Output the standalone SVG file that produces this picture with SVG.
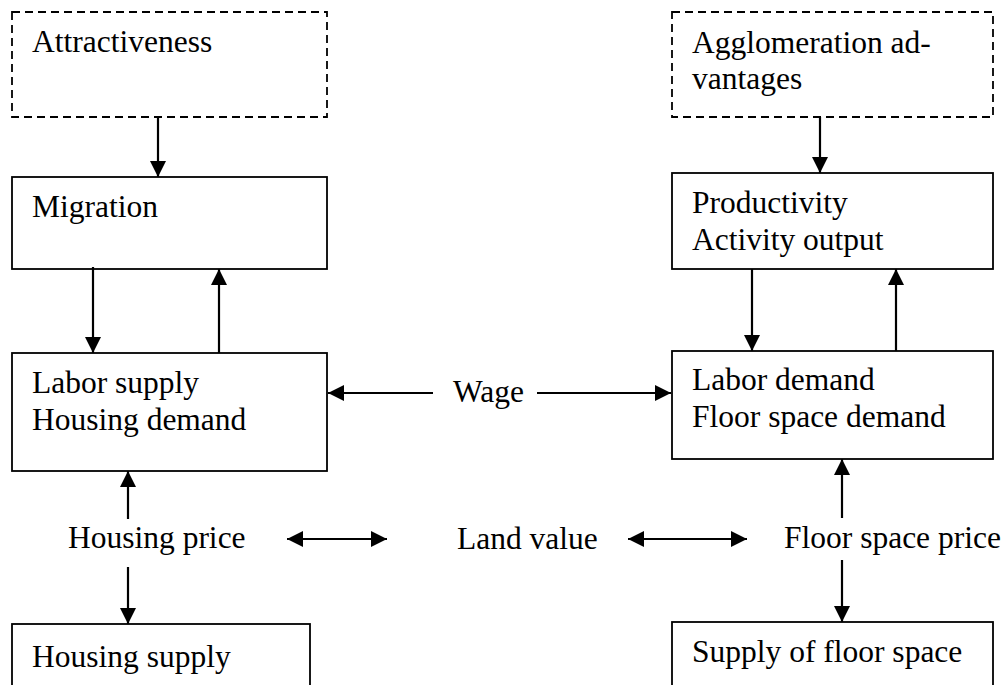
<svg xmlns="http://www.w3.org/2000/svg" width="1007" height="685" viewBox="0 0 1007 685">
<defs>
<marker id="ah" markerUnits="userSpaceOnUse" markerWidth="18" markerHeight="18" viewBox="0 0 18 18" refX="17" refY="9" orient="auto-start-reverse">
<path d="M1,1 L17,9 L1,17 Z" fill="#000"/>
</marker>
</defs>
<style>
.box{fill:#fff;stroke:#000;stroke-width:1.8}
.dash{fill:#fff;stroke:#000;stroke-width:1.8;stroke-dasharray:8 5}
.t{font-family:"Liberation Serif","Times New Roman",serif;font-size:31.5px;fill:#000}
.c{stroke:#000;stroke-width:2.2;fill:none;marker-end:url(#ah)}
.d{stroke:#000;stroke-width:2.2;fill:none;marker-end:url(#ah);marker-start:url(#ah)}
</style>
<rect width="1007" height="685" fill="#fff"/>
<g id="attractiveness"><rect class="dash" x="12" y="12" width="315" height="105"/><text class="t" x="32" y="52">Attractiveness</text></g>
<g id="agglomeration"><rect class="dash" x="672" y="12" width="321" height="105"/><text class="t" x="692" y="53">Agglomeration ad-</text><text class="t" x="692" y="89">vantages</text></g>
<g id="migration"><rect class="box" x="12" y="177" width="315" height="92"/><text class="t" x="32" y="217">Migration</text></g>
<g id="productivity"><rect class="box" x="672" y="173" width="321" height="96"/><text class="t" x="692" y="213">Productivity</text><text class="t" x="692" y="250">Activity output</text></g>
<g id="labor-supply"><rect class="box" x="12" y="353" width="315" height="118"/><text class="t" x="32" y="393">Labor supply</text><text class="t" x="32" y="430">Housing demand</text></g>
<g id="labor-demand"><rect class="box" x="672" y="351" width="321" height="108"/><text class="t" x="692" y="390">Labor demand</text><text class="t" x="692" y="427">Floor space demand</text></g>
<g id="wage"><text class="t" x="453" y="402">Wage</text></g>
<g id="housing-price"><text class="t" x="68" y="548">Housing price</text></g>
<g id="land-value"><text class="t" x="457" y="549">Land value</text></g>
<g id="floor-space-price"><text class="t" x="784" y="548">Floor space price</text></g>
<g id="housing-supply"><rect class="box" x="12" y="624" width="298" height="70"/><text class="t" x="32" y="667">Housing supply</text></g>
<g id="supply-floor-space"><rect class="box" x="672" y="622" width="321" height="72"/><text class="t" x="692" y="662">Supply of floor space</text></g>
<g id="connectors">
<line class="c" x1="158" y1="117" x2="158" y2="177"/>
<line class="c" x1="820" y1="117" x2="820" y2="173"/>
<line class="c" x1="93" y1="267" x2="93" y2="353"/>
<line class="c" x1="219" y1="353" x2="219" y2="269"/>
<line class="c" x1="752" y1="269" x2="752" y2="351"/>
<line class="c" x1="896" y1="351" x2="896" y2="269"/>
<line class="c" x1="433" y1="393" x2="328" y2="393"/>
<line class="c" x1="537" y1="393" x2="671" y2="393"/>
<line class="c" x1="128" y1="519" x2="128" y2="471"/>
<line class="c" x1="128" y1="567" x2="128" y2="624"/>
<line class="c" x1="842" y1="518" x2="842" y2="459"/>
<line class="c" x1="842" y1="560" x2="842" y2="622"/>
<line class="d" x1="287" y1="539" x2="387" y2="539"/>
<line class="d" x1="628" y1="539" x2="747" y2="539"/>
</g>
</svg>
